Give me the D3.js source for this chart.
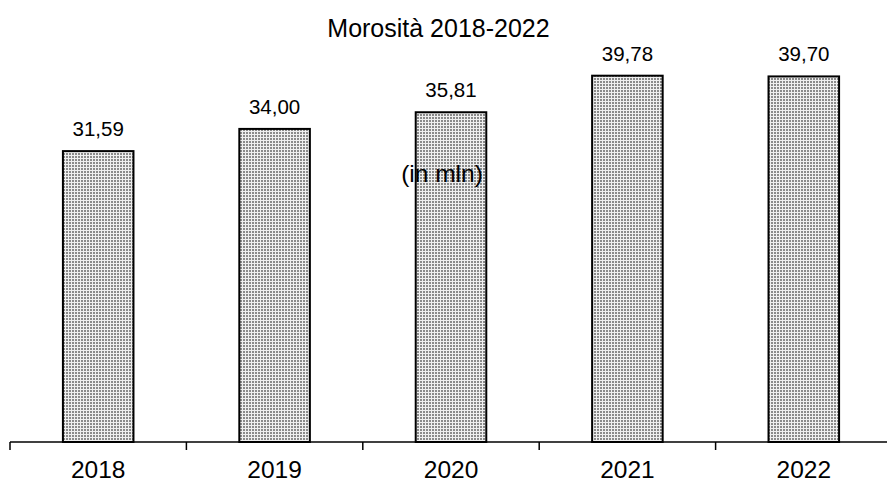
<!DOCTYPE html>
<html>
<head>
<meta charset="utf-8">
<script src="https://cdn.jsdelivr.net/npm/d3@7"></script>
<style>
  body { margin: 0; background: #fff; }
  text { font-family: "Liberation Sans", Arial, sans-serif; fill: #000; }
</style>
</head>
<body>
<div id="container"></div>
<script>
var years = ["2018", "2019", "2020", "2021", "2022"];
var values = [31.59, 34.00, 35.81, 39.78, 39.70];
var valueLabels = ["31,59", "34,00", "35,81", "39,78", "39,70"];
var titleText = "Morosità 2018-2022";
var unitText = "(in mln)";

function createChart() {
  var chartWidth = 887, chartHeight = 484;
  var baseY = 442;

  var chart = d3.select("#container").
  append("svg").
  attr("width", chartWidth).
  attr("height", chartHeight);

  // dotted fill like the original
  var defs = chart.append("defs");
  var pat = defs.append("pattern").
  attr("id", "dots").
  attr("patternUnits", "userSpaceOnUse").
  attr("width", 3).
  attr("height", 3);
  pat.append("rect").attr("width", 3).attr("height", 3).attr("fill", "#efefef");
  pat.append("rect").attr("width", 2).attr("height", 2).attr("fill", "#8a8a8a");

  var x = d3.scaleBand().domain(years).range([10, 892]).padding(0);
  var y = d3.scaleLinear().domain([0, 48]).range([baseY, 0]);
  var barW = x.bandwidth() * 0.4;

  chart.selectAll("rect.bar").
  data(values).
  enter().
  append("rect").
  attr("class", "bar").
  attr("x", function (d, i) {return x(years[i]) + (x.bandwidth() - barW) / 2;}).
  attr("y", function (d) {return y(d);}).
  attr("width", barW).
  attr("height", function (d) {return baseY - y(d);}).
  attr("fill", "url(#dots)").
  attr("stroke", "#000").
  attr("stroke-width", 2);

  // value labels
  chart.selectAll("text.val").
  data(values).
  enter().
  append("text").
  attr("class", "val").
  attr("x", function (d, i) {return x(years[i]) + x.bandwidth() / 2;}).
  attr("y", function (d) {return y(d) - 15;}).
  attr("text-anchor", "middle").
  style("font-size", "20.5px").
  text(function (d, i) {return valueLabels[i];});

  // x axis
  var axis = d3.axisBottom(x).tickSize(0).tickPadding(0);
  var ax = chart.append("g").
  attr("transform", "translate(0," + baseY + ")").
  call(axis);
  ax.select(".domain").attr("stroke", "#000").attr("stroke-width", 1.5).
  attr("d", "M10,0H887");
  ax.selectAll(".tick text").
  attr("y", 36).
  attr("dy", 0).
  style("font-size", "24.5px").
  style("font-family", "'Liberation Sans', Arial, sans-serif");
  // ticks between categories
  ax.selectAll("line.sep").
  data(years).
  enter().
  append("line").
  attr("class", "sep").
  attr("x1", function (d) {return x(d);}).
  attr("x2", function (d) {return x(d);}).
  attr("y1", 0).
  attr("y2", 8).
  attr("stroke", "#000").
  attr("stroke-width", 1.5);

  chart.append("text").
  attr("x", 438.5).
  attr("y", 37).
  attr("text-anchor", "middle").
  style("font-size", "25px").
  text(titleText);

  chart.append("text").
  attr("x", 442).
  attr("y", 182).
  attr("text-anchor", "middle").
  style("font-size", "24.5px").
  text(unitText);
}

createChart();
</script>
</body>
</html>
